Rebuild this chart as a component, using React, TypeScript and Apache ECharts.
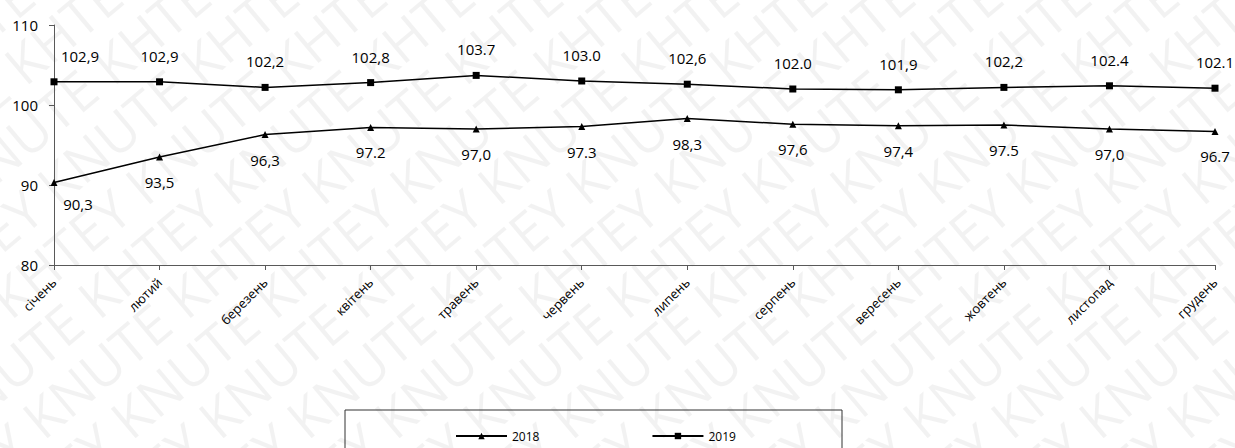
import React, { useEffect, useRef } from "react";
import * as echarts from "echarts";

const months = ["січень", "лютий", "березень", "квітень", "травень", "червень", "липень", "серпень", "вересень", "жовтень", "листопад", "грудень"];
const values2018 = [90.3, 93.5, 96.3, 97.2, 97.0, 97.3, 98.3, 97.6, 97.4, 97.5, 97.0, 96.7];
const values2019 = [102.9, 102.9, 102.2, 102.8, 103.7, 103.0, 102.6, 102.0, 101.9, 102.2, 102.4, 102.1];
const labels2018 = ["90,3", "93,5", "96,3", "97.2", "97,0", "97.3", "98,3", "97,6", "97,4", "97.5", "97,0", "96.7"];
const labels2019 = ["102,9", "102,9", "102,2", "102,8", "103.7", "103.0", "102,6", "102.0", "101,9", "102,2", "102.4", "102.1"];
const seriesNames = ["2018", "2019"];
const watermarkText = "KHTEY KNUTE KHTEY KNUTE KHTEY KNUTE KHTEY KNUTE KHTEY KNUTE";

const FONT = "'Open Sans', 'Noto Sans', sans-serif";

export default function App() {
  const ref = useRef<HTMLDivElement>(null);
  useEffect(() => {
    document.body.style.margin = "0";
    const chart = echarts.init(ref.current!, null, { renderer: "svg" });
    const wm: any[] = [];
    const ang = (40 * Math.PI) / 180;
    for (let i = -12; i < 20; i++) {
      wm.push({
        type: "text",
        x: i * 88,
        y: 560,
        rotation: ang,
        silent: true,
        z: -10,
        style: { text: watermarkText, fill: "rgba(0,0,0,0.05)", font: `54px ${FONT}`, textVerticalAlign: "bottom" },
      });
    }
    const option: any = {
      animation: false,
      backgroundColor: "#fff",
      textStyle: { fontFamily: FONT },
      grid: { left: 54, right: 20, top: 25, bottom: 183, containLabel: false },
      graphic: [
        ...wm,
        {
          type: "rect",
          shape: { x: 345, y: 410, width: 497, height: 60 },
          style: { fill: "none", stroke: "#333", lineWidth: 1 },
          z: 5,
        },
      ],
      legend: {
        data: seriesNames,
        left: 450,
        top: 425,
        itemWidth: 51,
        itemHeight: 8,
        itemGap: 112,
        textStyle: { fontSize: 12, color: "#000", fontFamily: FONT },
      },
      xAxis: {
        type: "category",
        data: months,
        boundaryGap: false,
        axisLine: { lineStyle: { color: "#595959", width: 1 } },
        axisTick: { show: true, alignWithLabel: true, length: 5, lineStyle: { color: "#595959" } },
        axisLabel: { rotate: 45, color: "#000", fontSize: 13, margin: 15, interval: 0 },
      },
      yAxis: {
        type: "value",
        min: 80,
        max: 110,
        interval: 10,
        splitLine: { show: false },
        axisLine: { show: true, lineStyle: { color: "#595959", width: 1 } },
        axisTick: { show: true, length: 5, lineStyle: { color: "#595959" } },
        axisLabel: { color: "#000", fontSize: 15, margin: 16 },
      },
      series: [
        {
          name: seriesNames[0],
          type: "line",
          data: values2018.map((v, i) => ({
            value: v,
            label: i === 0 ? { offset: [24, -4] } : undefined,
          })),
          symbol: "triangle",
          symbolSize: 7,
          lineStyle: { color: "#000", width: 1.5 },
          itemStyle: { color: "#000" },
          label: {
            show: true,
            position: "bottom",
            distance: 14,
            fontSize: 15,
            color: "#000",
            formatter: (p: any) => labels2018[p.dataIndex],
          },
          z: 3,
        },
        {
          name: seriesNames[1],
          type: "line",
          data: values2019.map((v, i) => ({
            value: v,
            label: i === 0 ? { offset: [26, 0] } : undefined,
          })),
          symbol: "rect",
          symbolSize: 7,
          lineStyle: { color: "#000", width: 1.5 },
          itemStyle: { color: "#000" },
          label: {
            show: true,
            position: "top",
            distance: 15,
            fontSize: 15,
            color: "#000",
            formatter: (p: any) => labels2019[p.dataIndex],
          },
          z: 3,
        },
      ],
    };
    chart.setOption(option);
    return () => chart.dispose();
  }, []);
  return <div ref={ref} style={{ width: 1235, height: 448 }} />;
}
